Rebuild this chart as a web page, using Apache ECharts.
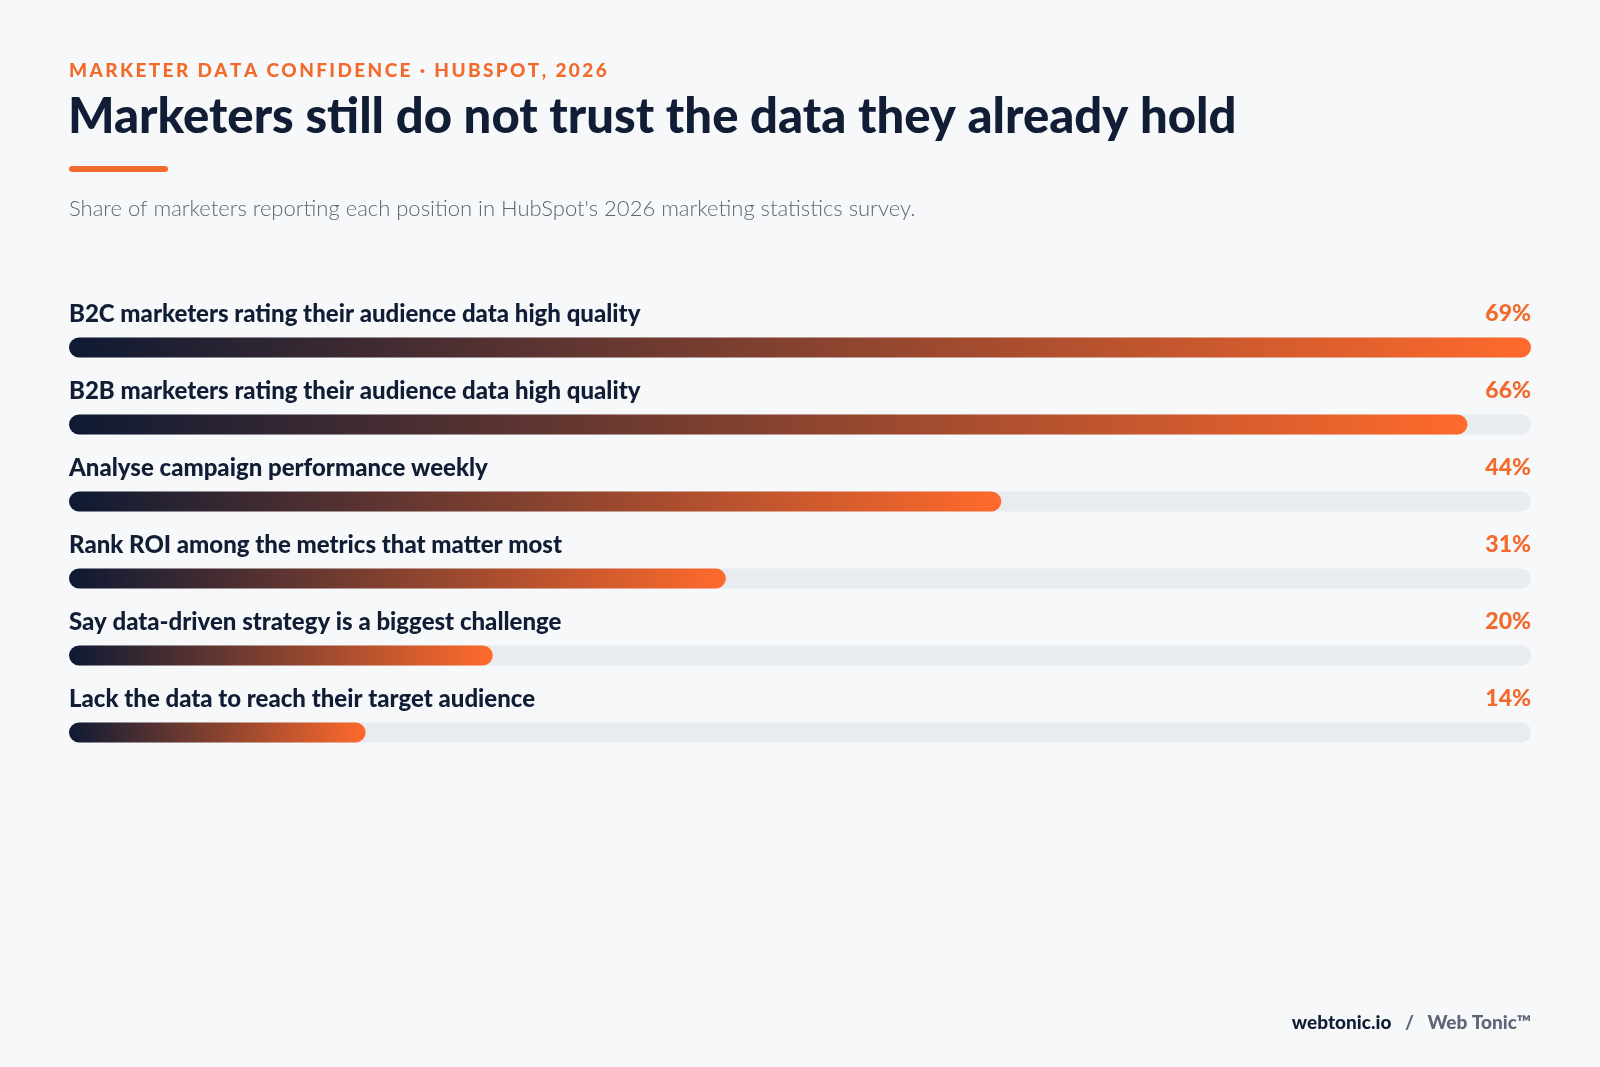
<!DOCTYPE html>
<html><head><meta charset="utf-8">
<script src="https://cdn.jsdelivr.net/npm/echarts@6/dist/echarts.min.js"></script>
<style>html,body{margin:0;background:#f7f8fa}#chart{width:1600px;height:1067px}</style>
</head><body><div id="chart"></div>
<script>
// survey positions, top to bottom
const categories = [
  'B2C marketers rating their audience data high quality',
  'B2B marketers rating their audience data high quality',
  'Analyse campaign performance weekly',
  'Rank ROI among the metrics that matter most',
  'Say data-driven strategy is a biggest challenge',
  'Lack the data to reach their target audience'
];
const shares = [69, 66, 44, 31, 20, 14];
const scaleMax = Math.max(...shares);

const eyebrow = 'MARKETER DATA CONFIDENCE · HUBSPOT, 2026';
// spread letters a little (letterSpacing is not applied by the renderer)
const spaced = eyebrow.split('').join('\u2009');

const chart = echarts.init(document.getElementById('chart'));
const font = 'Lato, "Noto Sans", sans-serif';
chart.setOption({
  backgroundColor: '#f7f8fa',
  animation: false,
  grid: { left: 69, right: 69, top: 309, height: 462 },
  xAxis: { type: 'value', min: 0, max: scaleMax, show: false },
  yAxis: { type: 'category', data: categories, inverse: true, show: false },
  graphic: [
    { type: 'text', left: 69, top: 61, style: { text: spaced, fill: '#f26b2c', font: '900 19px ' + font } },
    { type: 'text', left: 68, top: 93, style: { text: 'Marketers still do not trust the data they already hold', fill: '#111d35', font: '900 49px ' + font } },
    { type: 'rect', left: 69, top: 166, shape: { width: 99, height: 6, r: 3 }, style: { fill: '#f26b2c' } },
    { type: 'text', left: 69, top: 198, style: { text: "Share of marketers reporting each position in HubSpot's 2026 marketing statistics survey.", fill: '#5d6677', font: '300 22px ' + font } },
    { type: 'text', right: 69, top: 1013, style: { text: '{a|webtonic.io}{b|   /   Web Tonic™}', rich: { a: { fill: '#111d35', font: '900 19px ' + font }, b: { fill: '#5d6677', font: '900 19px ' + font } } } }
  ],
  series: [
    {
      type: 'bar', data: shares, barWidth: 20, z: 3,
      showBackground: true,
      backgroundStyle: { color: '#e8ebef', borderRadius: 10 },
      itemStyle: {
        borderRadius: 10,
        color: new echarts.graphic.LinearGradient(0, 0, 1, 0, [
          { offset: 0, color: '#0e1a33' }, { offset: 1, color: '#ff6a2c' }
        ])
      },
      label: {
        show: true, position: [0, -35], formatter: p => p.name,
        color: '#111d35', fontFamily: font, fontWeight: 900, fontSize: 24
      }
    },
    {
      type: 'bar', data: shares.map(() => scaleMax), barWidth: 20, barGap: '-100%', z: 2,
      itemStyle: { color: 'rgba(0,0,0,0)' }, silent: true,
      label: {
        show: true, position: ['100%', -35], align: 'right',
        formatter: p => shares[p.dataIndex] + '%',
        color: '#f26b2c', fontFamily: font, fontWeight: 900, fontSize: 23
      }
    }
  ]
});
</script></body></html>
